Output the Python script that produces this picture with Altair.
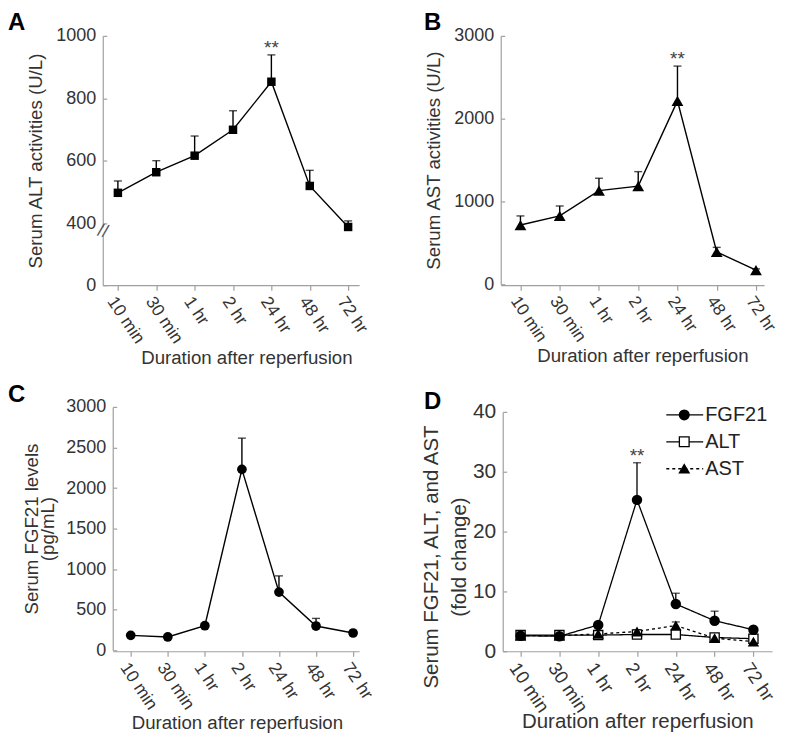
import altair as alt
import pandas as pd

FONT = "Liberation Sans"
TXT = "#333333"
AX = "#a0a0a0"

times = ["10 min", "30 min", "1 hr", "2 hr", "24 hr", "48 hr", "72 hr"]

# Panel A: serum ALT activities (U/L)
alt_mean = [497, 563, 616, 699, 853, 519, 375]
alt_sem = [38, 37, 63, 61, 86, 50, 32]
alt_sig = ["", "", "", "", "**", "", ""]

# Panel B: serum AST activities (U/L)
ast_mean = [715, 825, 1130, 1185, 2215, 390, 170]
ast_sem = [110, 120, 150, 175, 420, 55, 15]
ast_sig = ["", "", "", "", "**", "", ""]

# Panel C: serum FGF21 levels (pg/mL)
fgf_mean = [184, 164, 303, 2230, 717, 299, 213]
fgf_sem = [20, 20, 25, 385, 200, 94, 15]
fgf_sig = ["", "", "", "", "", "", ""]

# Panel D: fold change
series_names = ["FGF21", "ALT", "AST"]
fold_fgf21 = [2.6, 2.5, 4.4, 25.3, 7.9, 5.1, 3.6]
fold_fgf21_sem = [0.3, 0.3, 0.4, 6.2, 1.8, 1.6, 0.3]
fold_fgf21_sig = ["", "", "", "**", "", "", ""]
fold_alt = [2.7, 2.7, 2.7, 2.8, 2.8, 2.3, 2.1]
fold_alt_sem = [0.2, 0.2, 0.2, 0.2, 0.2, 0.2, 0.2]
fold_ast = [2.6, 2.6, 2.9, 3.3, 4.3, 2.2, 1.6]
fold_ast_sem = [0.3, 0.3, 0.3, 0.3, 0.6, 0.3, 0.2]
no_sig = ["", "", "", "", "", "", ""]


def frame(mean, sem, sig, series=None):
    d = pd.DataFrame({"time": times, "mean": mean, "sem": sem, "sig": sig})
    d["top"] = d["mean"] + d["sem"]
    if series is not None:
        d["series"] = series
    return d


def xenc(xrange, pad, align, lfs, tfs, titlex, titley):
    return alt.X(
        "time:N", sort=times,
        scale=alt.Scale(type="point", padding=pad, align=align, range=xrange),
        axis=alt.Axis(title="Duration after reperfusion", labelAngle=56, labelAlign="left",
                      labelBaseline="top", labelPadding=3, tickSize=5,
                      labelFontSize=lfs, titleFontSize=tfs, titleX=titlex, titleY=titley,
                      titleBaseline="middle"),
    )


def yencs(field, scale, title, vals, lfs, tfs, x0, width, tpad, lh=None, ty=None):
    kw = dict(title=title, values=vals, format="d", ticks=False, labelPadding=7,
              titlePadding=tpad, labelFontSize=lfs, titleFontSize=tfs, offset=-x0)
    if lh is not None:
        kw["titleLineHeight"] = lh
    if ty is not None:
        kw["titleY"] = ty
    main = alt.Y(field, scale=scale, axis=alt.Axis(**kw))
    tick = alt.Y(field, scale=scale, axis=alt.Axis(orient="right", offset=-(width - x0), values=vals,
                                                   labels=False, domain=False, ticks=True,
                                                   tickSize=4, title=None))
    return main, tick


def letter_layer(t, lx, ly):
    one = alt.Chart(pd.DataFrame({"letter": [t]}))
    return one.mark_text(font=FONT, fontSize=24, fontWeight="bold", color="black",
                         align="left", baseline="alphabetic").encode(
        x=alt.value(lx), y=alt.value(ly), text="letter:N")


def single_panel(df, let, lx, ly, ytitle, yscale, yvals, width, height, xrange, pad, align,
                 shape, size, xlfs, titlex, titley, tpad, lh=None, broken=False):
    x0 = xrange[0]
    x = xenc(xrange, pad, align, xlfs, 18.7, titlex, titley)
    y_main, y_tick = yencs("mean:Q", yscale, ytitle, yvals, 18, 18.7, x0, width, tpad, lh)
    y_none = alt.Y("mean:Q", scale=yscale, axis=None)
    y_top = alt.Y("top:Q", scale=yscale, axis=None)
    base = alt.Chart(df)
    line = base.mark_line(color="black", strokeWidth=1.4).encode(x=x, y=y_main)
    bar = base.mark_rule(color="black", strokeWidth=1.4).encode(x=x, y=y_tick, y2="top:Q")
    cap = base.mark_tick(color="black", thickness=1.4, size=8).encode(x=x, y=y_top)
    pts = base.mark_point(shape=shape, filled=True, color="black", size=size, opacity=1).encode(x=x, y=y_none)
    star = base.mark_text(font=FONT, fontSize=19, color="#444444", baseline="alphabetic", dy=-1).encode(
        x=x, y=y_top, text="sig:N")
    layers = [line, bar, cap, pts, star]
    if broken:
        one = alt.Chart(pd.DataFrame({"k": [0]}))
        gap = one.mark_rect(color="white").encode(
            x=alt.value(x0 - 3), x2=alt.value(x0 + 3),
            y=alt.YDatum(318, scale=yscale, axis=None), y2=alt.Y2Datum(372))
        slash = one.mark_text(text="//", font=FONT, fontSize=18, angle=15, color="#555555").encode(
            x=alt.value(x0), y=alt.YDatum(345, scale=yscale, axis=None))
        layers += [gap, slash]
    layers.append(letter_layer(let, lx, ly))
    return alt.layer(*layers).resolve_axis(y="independent").properties(width=width, height=height)


dfA = frame(alt_mean, alt_sem, alt_sig)
dfB = frame(ast_mean, ast_sem, ast_sig)
dfC = frame(fgf_mean, fgf_sem, fgf_sig)

A = single_panel(dfA, "A", -95, -6, "Serum ALT activities (U/L)",
                 alt.Scale(domain=[0, 400, 1000], range=[250, 187.7, 0]),
                 [0, 400, 600, 800, 1000], 257, 250, [0, 257], 0.34, 0.58, "square", 72, 17.5,
                 144, 72, 10, broken=True)
B = single_panel(dfB, "B", -77, -6, "Serum AST activities (U/L)",
                 alt.Scale(domain=[0, 3000], nice=False, range=[249, 0]),
                 [0, 1000, 2000, 3000], 274, 250, [0, 264], 0.354, 0.71, "triangle-up", 140, 17,
                 142, 70, 10)
C = single_panel(dfC, "C", -95, -5, ["Serum FGF21 levels", "(pg/mL)"],
                 alt.Scale(domain=[0, 3000], nice=False, range=[244, 0]),
                 [0, 500, 1000, 1500, 2000, 2500, 3000], 257, 245, [10, 257], 0.324, 0.75, "circle", 95, 17.5,
                 134.5, 71, 8, lh=16)

# Panel D
dfD = pd.concat([
    frame(fold_fgf21, fold_fgf21_sem, fold_fgf21_sig, "FGF21"),
    frame(fold_alt, fold_alt_sem, no_sig, "ALT"),
    frame(fold_ast, fold_ast_sem, no_sig, "AST"),
], ignore_index=True)

wD, hD, x0D = 274, 245, 2
ysD = alt.Scale(domain=[0, 40], nice=False, range=[245, 5])
xD = xenc([x0D, 272], 0.47, 0.49, 18.5, 20.5, 137, 70)
yD_main, yD_tick = yencs("mean:Q", ysD, ["Serum FGF21, ALT, and AST", "(fold change)"],
                         [0, 10, 20, 30, 40], 21, 20.5, x0D, wD, 3, lh=28, ty=150)
yD_none = alt.Y("mean:Q", scale=ysD, axis=None)
yD_top = alt.Y("top:Q", scale=ysD, axis=None)
dash_scale = alt.Scale(domain=series_names, range=[[1, 0], [1, 0], [3, 3]])
baseD = alt.Chart(dfD)
lineD = baseD.mark_line(color="black", strokeWidth=1.3).encode(
    x=xD, y=yD_main, detail="series:N",
    strokeDash=alt.StrokeDash("series:N", scale=dash_scale, legend=None))
barD = baseD.mark_rule(color="black", strokeWidth=1.3).encode(x=xD, y=yD_tick, y2="top:Q", detail="series:N")
capD = baseD.mark_tick(color="black", thickness=1.3, size=8).encode(x=xD, y=yD_top)
ptsF = baseD.transform_filter(alt.datum.series == "FGF21").mark_point(
    shape="circle", filled=True, color="black", size=110, opacity=1).encode(x=xD, y=yD_none)
ptsL = baseD.transform_filter(alt.datum.series == "ALT").mark_point(
    shape="square", fill="white", stroke="black", strokeWidth=1.3, size=85, opacity=1).encode(x=xD, y=yD_none)
ptsS = baseD.transform_filter(alt.datum.series == "AST").mark_point(
    shape="triangle-up", filled=True, color="black", size=130, opacity=1).encode(x=xD, y=yD_none)
starD = baseD.mark_text(font=FONT, fontSize=19, color="#444444", baseline="alphabetic", dy=-1).encode(
    x=xD, y=yD_top, text="sig:N")

# key for panel D, built from the series names
legdf = pd.DataFrame({"series": series_names})
y_leg = alt.Y("series:N", sort=series_names,
              scale=alt.Scale(type="point", domain=series_names, range=[8, 62], padding=0), axis=None)
leg_line = alt.Chart(legdf).mark_rule(color="black", strokeWidth=1.3).encode(
    x=alt.value(166), x2=alt.value(203), y=y_leg,
    strokeDash=alt.StrokeDash("series:N", scale=dash_scale, legend=None))
leg_sym = alt.Chart(legdf).mark_point(filled=True, stroke="black", strokeWidth=1.3, opacity=1, size=95).encode(
    x=alt.value(184), y=y_leg,
    shape=alt.Shape("series:N", scale=alt.Scale(domain=series_names, range=["circle", "square", "triangle-up"]),
                    legend=None),
    fill=alt.Fill("series:N", scale=alt.Scale(domain=series_names, range=["black", "white", "black"]),
                  legend=None))
leg_txt = alt.Chart(legdf).mark_text(font=FONT, fontSize=20, color="#222222", align="left",
                                     baseline="middle").encode(x=alt.value(205), y=y_leg, text="series:N")

D = alt.layer(lineD, barD, capD, ptsL, ptsS, ptsF, starD, leg_line, leg_sym, leg_txt,
              letter_layer("D", -77, 2)).resolve_scale(y="independent").resolve_axis(
    y="independent").properties(width=wD, height=hD)

chart = alt.concat(A, B, C, D, columns=2, spacing={"row": 122, "column": 142}, bounds="flush").resolve_scale(
    shape="independent", fill="independent", strokeDash="independent").properties(
    padding={"top": 2, "left": 0, "right": 0, "bottom": 0}).configure_view(
    stroke=None).configure_axis(
    domainColor=AX, tickColor=AX, labelColor=TXT, titleColor=TXT, labelFont=FONT, titleFont=FONT,
    titleFontWeight="normal", grid=False, domainWidth=1.2, tickWidth=1.2)

chart.save("out.html", embed_options={"renderer": "svg", "actions": False})
